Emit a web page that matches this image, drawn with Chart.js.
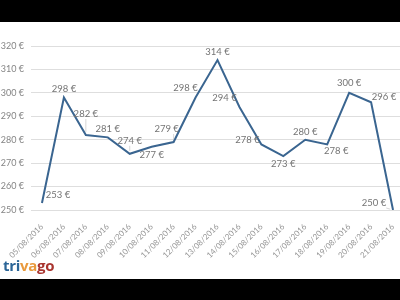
<!DOCTYPE html>
<html>
<head>
<meta charset="utf-8">
<script src="https://cdn.jsdelivr.net/npm/chart.js@4"></script>
<style>
    html, body { margin: 0; padding: 0; width: 400px; height: 300px; overflow: hidden; background: #000; }
    #paper { position: absolute; left: 0; top: 22px; width: 400px; height: 257px; background: #fff; overflow: hidden; }
    #wrap { position: absolute; left: 0; top: 0; width: 404px; height: 240px; }
    #logo { position: absolute; left: 3px; top: 233px; font: bold 15px "Open Sans", sans-serif; letter-spacing: -0.3px; }
</style>
</head>
<body>
<div id="paper">
    <div id="wrap"><canvas id="chart"></canvas></div>
    <div id="logo"><span style="color:#2b6597">tri</span><span style="color:#e99a3d">va</span><span style="color:#a9352f">go</span></div>
</div>
<script>
// Price per night, one value per day
const dates = ['05/08/2016', '06/08/2016', '07/08/2016', '08/08/2016', '09/08/2016', '10/08/2016',
    '11/08/2016', '12/08/2016', '13/08/2016', '14/08/2016', '15/08/2016', '16/08/2016',
    '17/08/2016', '18/08/2016', '19/08/2016', '20/08/2016', '21/08/2016'];
const prices = [253, 298, 282, 281, 274, 277, 279, 298, 314, 294, 278, 273, 280, 278, 300, 296, 250];
const yMin = 250;
const yMax = 320;
const yStep = 10;

// where each value label sits relative to its point (dx, dy in px)
const labelOffsets = [[16, -8], [0, -9], [0, -21], [0, -8], [0, -13], [0, 8], [-7, -13], [-10, -10], [0, -8],
    [-15, -9], [-14, -4], [0, 8], [0, -8], [9, 7], [0, -10], [13, -5], [-19, -7]];

const valueLabels = {
    id: 'valueLabels',
    afterDatasetsDraw(chart) {
        const ctx = chart.ctx;
        const meta = chart.getDatasetMeta(0);
        ctx.save();
        ctx.font = '9.5px Lato, sans-serif';
        ctx.textAlign = 'center';
        ctx.textBaseline = 'middle';
        meta.data.forEach((pt, i) => {
            const [dx, dy] = labelOffsets[i];
            const text = prices[i] + ' €';
            const w = ctx.measureText(text).width;
            const cx = pt.x + dx, cy = pt.y + dy;
            // leader line when the label sits away from the point
            const ex = Math.max(cx - w / 2, Math.min(pt.x, cx + w / 2));
            const ey = Math.max(cy - 5, Math.min(pt.y, cy + 5));
            const d = Math.hypot(pt.x - ex, pt.y - ey);
            if (d > 5) {
                ctx.strokeStyle = '#cccccc';
                ctx.lineWidth = 0.8;
                ctx.beginPath();
                ctx.moveTo(ex, ey);
                ctx.lineTo(ex + (pt.x - ex) * (d - 3) / d, ey + (pt.y - ey) * (d - 3) / d);
                ctx.stroke();
            }
            ctx.fillStyle = '#747474';
            ctx.fillText(text, cx, cy);
        });
        ctx.restore();
    }
};

new Chart(document.getElementById('chart'), {
    type: 'line',
    data: {
        labels: dates,
        datasets: [{
            data: prices,
            borderColor: '#3a6590',
            borderWidth: 2,
            pointRadius: 0,
            tension: 0,
            fill: false
        }]
    },
    options: {
        responsive: true,
        maintainAspectRatio: false,
        animation: false,
        layout: { padding: { top: 24, left: 0, right: 0, bottom: 0 } },
        plugins: { legend: { display: false }, tooltip: { enabled: false } },
        scales: {
            x: {
                offset: true,
                grid: { display: false },
                border: { display: false },
                ticks: {
                    color: '#959595',
                    font: { family: 'Lato, sans-serif', size: 8 },
                    minRotation: 45, maxRotation: 45, padding: 4, autoSkip: false
                },
                afterFit(scale) { scale.height = 52; }
            },
            y: {
                min: yMin, max: yMax,
                grid: { color: '#dedede', lineWidth: 1, drawTicks: false },
                border: { display: false },
                ticks: {
                    stepSize: yStep,
                    color: '#858585',
                    padding: 7,
                    font: { family: 'Lato, sans-serif', size: 9 },
                    callback: v => v + ' €'
                },
                afterFit(scale) { scale.width = 31; }
            }
        }
    },
    plugins: [valueLabels]
});
</script>
</body>
</html>
